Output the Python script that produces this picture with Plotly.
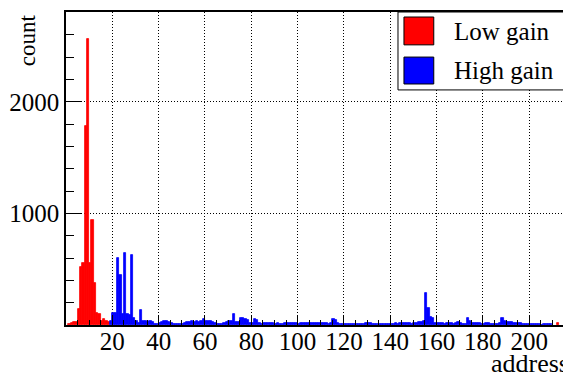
import plotly.graph_objects as go

# ---------------- data ----------------
low_gain_addr = list(range(1, 19)) + [212]
low_gain_counts = [10, 15, 25, 30, 145, 520, 560, 1780, 2560, 560, 940, 380,
                   110, 100, 35, 50, 35, 30, 20]

high_gain_first_addr = 19
high_gain_counts = [
    35, 110, 110, 600, 450, 95, 645, 95, 90, 630,        # 19-28
    65, 35, 20, 130, 35, 35, 30, 35, 30, 10,             # 29-38
    5, 20, 25, 35, 40, 30, 20, 10, 5, 5,                 # 39-48
    5, 10, 15, 25, 30, 35, 30, 35, 30, 35,               # 49-58
    50, 40, 40, 35, 25, 15, 5, 5, 10, 20,                # 59-68
    30, 40, 40, 100, 30, 25, 65, 60, 50, 45,             # 69-78
    20, 20, 55, 45, 20, 10, 15, 20, 15, 20,              # 79-88
    15, 10, 15, 10, 10, 15, 20, 15, 15, 20,              # 89-98
    15, 10, 20, 20, 15, 15, 15, 15, 20, 15,              # 99-108
    15, 20, 15, 15, 10, 20, 50, 45, 15, 5,               # 109-118
    5, 10, 10, 10, 5, 10, 10, 5, 10, 5,                  # 119-128
    15, 20, 15, 10, 5, 5, 5, 5, 5, 5,                    # 129-138
    10, 10, 10, 15, 10, 15, 15, 15, 20, 20,              # 139-148
    10, 15, 20, 30, 30, 40, 288, 150, 70, 65,            # 149-158
    20, 20, 15, 20, 10, 20, 20, 15, 10, 15,              # 159-168
    28, 15, 10, 10, 65, 40, 20, 15, 15, 15,              # 169-178
    10, 10, 15, 15, 10, 10, 5, 10, 15, 60,               # 179-188
    40, 30, 25, 25, 20, 15, 15, 15, 10, 10,              # 189-198
    5, 5, 10, 10, 5, 5, 0, 10, 5, 10, 5,                 # 199-209
]
high_gain_addr = list(range(high_gain_first_addr,
                            high_gain_first_addr + len(high_gain_counts)))

x_tick_vals = [20, 40, 60, 80, 100, 120, 140, 160, 180, 200]
y_tick_vals = [1000, 2000]
x_range = [0, 214.6]
y_range = [0, 2805]

series_names = ["Low gain", "High gain"]
series_colors = ["#ff0000", "#0000ff"]

FONT = "Liberation Serif, Times New Roman, Times, serif"

# ---------------- figure ----------------
fig = go.Figure()
for addr, counts, name, col in [(low_gain_addr, low_gain_counts, series_names[0], series_colors[0]),
                                (high_gain_addr, high_gain_counts, series_names[1], series_colors[1])]:
    fig.add_trace(go.Bar(x=[a + 0.5 for a in addr], y=counts, width=1,
                         marker=dict(color=col, line=dict(color=col, width=0.8)),
                         name=name, showlegend=False))

x_minor = [v for v in range(5, 215, 5) if v % 20 != 0]
y_minor = [v for v in range(200, 2801, 200) if v % 1000 != 0]

fig.update_layout(
    width=563, height=375,
    margin=dict(l=66, r=0, t=12, b=50),
    paper_bgcolor="white", plot_bgcolor="white",
    barmode="overlay", bargap=0,
    font=dict(family=FONT, size=25, color="black"),
    xaxis=dict(range=x_range, tickmode="array", tickvals=x_tick_vals,
               ticks="inside", ticklen=10, tickcolor="black", tickwidth=1,
               showline=True, linecolor="black", linewidth=1.5, mirror=True,
               showgrid=True, gridcolor="black", griddash="1px,2px", gridwidth=1,
               zeroline=False, ticklabelstandoff=-7,
               minor=dict(tickmode="array", tickvals=x_minor, ticks="inside",
                          ticklen=5, tickcolor="black", showgrid=False),
               tickfont=dict(family=FONT, size=25)),
    yaxis=dict(range=y_range, tickmode="array", tickvals=y_tick_vals,
               ticks="inside", ticklen=15, tickcolor="black", tickwidth=1,
               showline=True, linecolor="black", linewidth=1.5, mirror=False,
               showgrid=True, gridcolor="black", griddash="1px,2px", gridwidth=1,
               zeroline=False, ticklabelstandoff=0,
               minor=dict(tickmode="array", tickvals=y_minor, ticks="inside",
                          ticklen=8, tickcolor="black", showgrid=False),
               tickfont=dict(family=FONT, size=25)),
)

# axis titles
fig.add_annotation(text="count", textangle=-90, xref="paper", yref="paper",
                   x=-0.078, y=1.0, xanchor="center", yanchor="top",
                   showarrow=False, font=dict(family=FONT, size=23))
fig.add_annotation(text="address", xref="paper", yref="paper",
                   x=(489 - 66) / 497, y=-0.122, xanchor="left", yanchor="middle",
                   showarrow=False, font=dict(family=FONT, size=26))

# legend (manual, ROOT style)
fig.add_shape(type="rect", xref="paper", yref="paper", x0=0.668, x1=1.05,
              y0=0.751, y1=1.0, fillcolor="white", line=dict(color="black", width=1),
              layer="above")
legend_rows = [(0.984, 0.895, 0.939), (0.856, 0.770, 0.813)]
for (y1, y0, yc), name, col in zip(legend_rows, series_names, series_colors):
    fig.add_shape(type="rect", xref="paper", yref="paper", x0=0.680, x1=0.740,
                  y0=y0, y1=y1, fillcolor=col, line=dict(color="black", width=1),
                  layer="above")
    fig.add_annotation(text=name, xref="paper", yref="paper", x=0.777, y=yc,
                       xanchor="left", yanchor="middle", showarrow=False,
                       font=dict(family=FONT, size=25))

fig.write_html("out.html")
